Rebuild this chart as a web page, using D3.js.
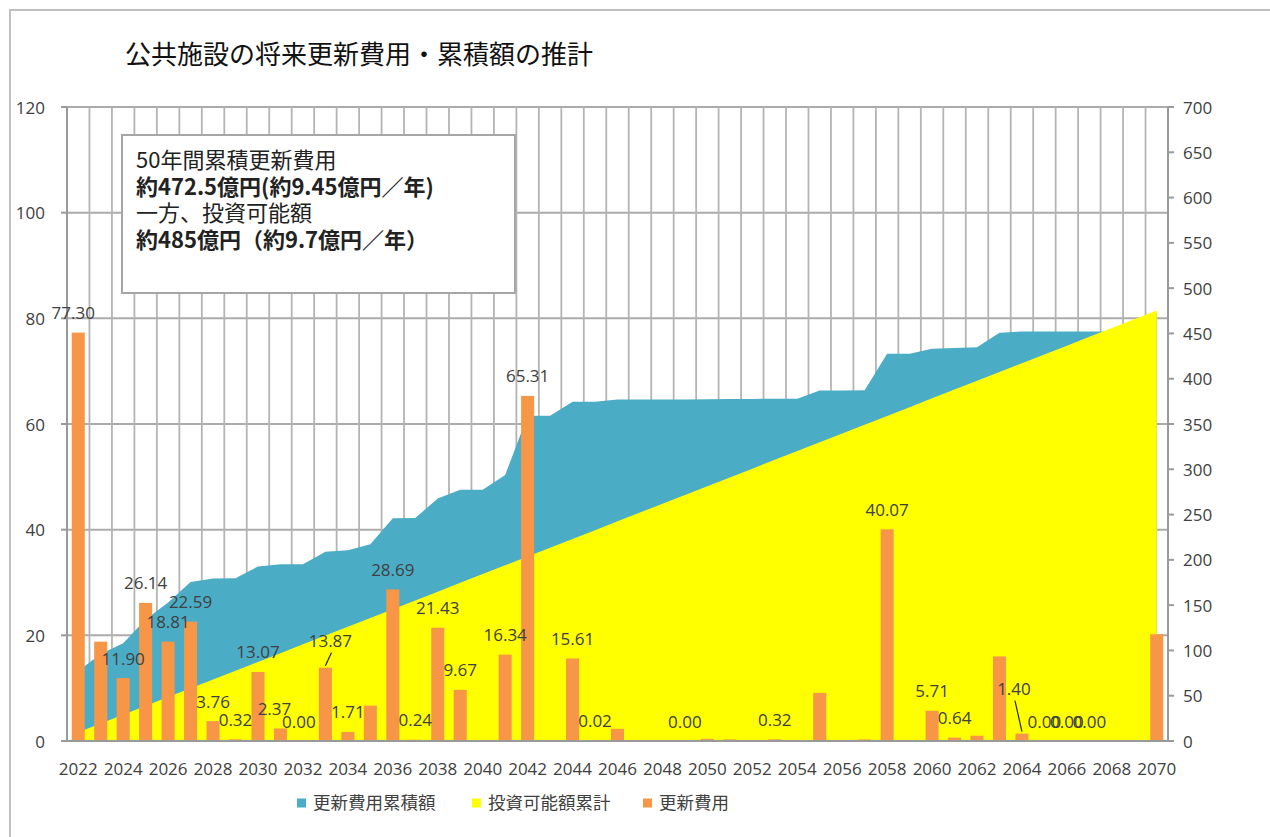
<!DOCTYPE html>
<html>
<head>
<meta charset="utf-8">
<script src="https://cdn.jsdelivr.net/npm/d3@7"></script>
<style>
    body { margin: 0; background: #fff; }
    svg { display: block; }
    .num { font-family: 'Open Sans', 'Liberation Sans', sans-serif; font-size: 17px; fill: #404040; }
    .jp { font-family: 'Noto Sans CJK JP', sans-serif; }
</style>
</head>
<body>
<svg class="rootSvg" width="1270" height="837"></svg>
<script>
// years on the category axis
var years = d3.range(2022, 2071);

// 更新費用 (億円) per year
var costs = [77.30, 18.80, 11.90, 26.14, 18.81, 22.59, 3.76, 0.32, 13.07, 2.37,
             0.00, 13.87, 1.71, 6.70, 28.69, 0.24, 21.43, 9.67, 0.00, 16.34,
             65.31, 0.00, 15.61, 0.02, 2.30, 0.00, 0.00, 0.00, 0.40, 0.30,
             0.00, 0.32, 0.00, 9.10, 0.00, 0.30, 40.07, 0.00, 5.71, 0.64,
             1.00, 16.00, 1.40, 0.00, 0.00, 0.00, 0.00, 0.00, 20.20];

// 更新費用累積額 (億円)
var costsCum = [77.30, 96.10, 108.00, 134.14, 152.95, 175.54, 179.30, 179.62, 192.69, 195.06,
                195.06, 208.93, 210.64, 217.34, 246.03, 246.27, 267.70, 277.37, 277.37, 293.71,
                359.02, 359.02, 374.63, 374.65, 376.95, 376.95, 376.95, 376.95, 377.35, 377.65,
                377.65, 377.97, 377.97, 387.07, 387.07, 387.37, 427.44, 427.44, 433.15, 433.79,
                434.79, 450.79, 452.19, 452.19, 452.19, 452.19, 452.19, 452.19, 472.39];

// 投資可能額累計 (億円)
var investCum = [9.7, 19.4, 29.1, 38.8, 48.5, 58.2, 67.9, 77.6, 87.3, 97.0,
                 106.7, 116.4, 126.1, 135.8, 145.5, 155.2, 164.9, 174.6, 184.3, 194.0,
                 203.7, 213.4, 223.1, 232.8, 242.5, 252.2, 261.9, 271.6, 281.3, 291.0,
                 300.7, 310.4, 320.1, 329.8, 339.5, 349.2, 358.9, 368.6, 378.3, 388.0,
                 397.7, 407.4, 417.1, 426.8, 436.5, 446.2, 455.9, 465.6, 475.3];

// years that carry a data label
var labelYears = [2022, 2024, 2025, 2026, 2027, 2028, 2029, 2030, 2031, 2032, 2033, 2034,
                  2036, 2037, 2038, 2039, 2041, 2042, 2044, 2045, 2049, 2053, 2058,
                  2060, 2061, 2064, 2065, 2066, 2067];

var leftTicks = [0, 20, 40, 60, 80, 100, 120];
var rightTicks = d3.range(0, 701, 50);
var xTickYears = d3.range(2022, 2071, 2);

var seriesNames = ['更新費用累積額', '投資可能額累計', '更新費用'];
var seriesColors = ['#4bacc6', '#ffff00', '#f79646'];

var noteLines = ['50年間累積更新費用', '約472.5億円(約9.45億円／年)', '一方、投資可能額', '約485億円（約9.7億円／年）'];

// hand placed labels, like the ones dragged in the original
var labelNudge = {
    2022: { dx: -5, dy: 0 },
    2031: { dx: -6, dy: 0 },
    2032: { dx: -4, dy: 0 },
    2033: { dx: 5, dy: -7, leader: true },
    2064: { dx: -8, dy: -25, leader: true }
};

var plot = { left: 67, right: 1168, top: 107, bottom: 741 };

var svg = d3.select('.rootSvg');

var x = d3.scaleBand()
    .domain(years)
    .range([plot.left, plot.right])
    .padding(0);

var yL = d3.scaleLinear().domain([0, 120]).range([plot.bottom, plot.top]);
var yR = d3.scaleLinear().domain([0, 700]).range([plot.bottom, plot.top]);

var barW = x.bandwidth() * 0.58;

function cx(year) {
    return x(year) + x.bandwidth() / 2;
}

// outer frame
svg.append('rect')
    .attr('x', 10)
    .attr('y', 10)
    .attr('width', 1290)
    .attr('height', 900)
    .attr('fill', 'none')
    .attr('stroke', '#c0c0c0')
    .attr('stroke-width', 2);

// title
svg.append('text')
    .attr('class', 'jp')
    .attr('x', 125)
    .attr('y', 52)
    .attr('dominant-baseline', 'central')
    .attr('font-size', 26)
    .attr('fill', '#111')
    .text('公共施設の将来更新費用・累積額の推計');

// grid
var grid = svg.append('g');

grid.selectAll('.hgrid')
    .data(leftTicks.slice(1))
    .enter()
    .append('line')
        .attr('x1', plot.left)
        .attr('x2', plot.right)
        .attr('y1', yL)
        .attr('y2', yL)
        .attr('stroke', '#ababab')
        .attr('stroke-width', 2);

grid.selectAll('.vgrid')
    .data(years.slice(1))
    .enter()
    .append('line')
        .attr('x1', function (d) { return x(d); })
        .attr('x2', function (d) { return x(d); })
        .attr('y1', plot.top)
        .attr('y2', plot.bottom)
        .attr('stroke', '#b4b4b4')
        .attr('stroke-width', 1.8);

// areas on the right axis
function area(values) {
    return d3.area()
        .x(function (d, i) { return cx(years[i]); })
        .y0(yR(0))
        .y1(function (d) { return yR(d); })(values);
}

svg.append('path')
    .attr('d', area(costsCum))
    .attr('fill', seriesColors[0]);

svg.append('path')
    .attr('d', area(investCum))
    .attr('fill', seriesColors[1]);

// bars on the left axis
svg.append('g')
    .selectAll('rect')
    .data(costs)
    .enter()
    .append('rect')
        .attr('x', function (d, i) { return cx(years[i]) - barW / 2; })
        .attr('y', function (d) { return yL(d); })
        .attr('width', barW)
        .attr('height', function (d) { return yL(0) - yL(d); })
        .attr('fill', seriesColors[2]);

// axes lines
svg.append('line')
    .attr('x1', plot.left).attr('x2', plot.left)
    .attr('y1', plot.top).attr('y2', plot.bottom)
    .attr('stroke', '#9a9a9a').attr('stroke-width', 2);

svg.append('line')
    .attr('x1', plot.right).attr('x2', plot.right)
    .attr('y1', plot.top).attr('y2', plot.bottom)
    .attr('stroke', '#9a9a9a').attr('stroke-width', 2);

svg.append('line')
    .attr('x1', plot.left).attr('x2', plot.right)
    .attr('y1', plot.bottom).attr('y2', plot.bottom)
    .attr('stroke', '#9a9a9a').attr('stroke-width', 2);

// left ticks
var leftAxis = svg.append('g');

leftAxis.selectAll('line')
    .data(leftTicks)
    .enter()
    .append('line')
        .attr('x1', plot.left - 6)
        .attr('x2', plot.left)
        .attr('y1', yL)
        .attr('y2', yL)
        .attr('stroke', '#9a9a9a')
        .attr('stroke-width', 2);

leftAxis.selectAll('text')
    .data(leftTicks)
    .enter()
    .append('text')
        .attr('class', 'num')
        .attr('x', 45)
        .attr('y', yL)
        .attr('text-anchor', 'end')
        .attr('dominant-baseline', 'central')
        .text(function (d) { return d; });

// right ticks
var rightAxis = svg.append('g');

rightAxis.selectAll('line')
    .data(rightTicks)
    .enter()
    .append('line')
        .attr('x1', plot.right)
        .attr('x2', plot.right + 6)
        .attr('y1', yR)
        .attr('y2', yR)
        .attr('stroke', '#9a9a9a')
        .attr('stroke-width', 2);

rightAxis.selectAll('text')
    .data(rightTicks)
    .enter()
    .append('text')
        .attr('class', 'num')
        .attr('x', plot.right + 15)
        .attr('y', yR)
        .attr('dominant-baseline', 'central')
        .text(function (d) { return d; });

// year labels
svg.append('g')
    .selectAll('text')
    .data(xTickYears)
    .enter()
    .append('text')
        .attr('class', 'num')
        .attr('x', cx)
        .attr('y', 768)
        .attr('text-anchor', 'middle')
        .attr('dominant-baseline', 'central')
        .text(function (d) { return d; });

// data labels
var fmt = d3.format('.2f');

function costOf(year) {
    return costs[years.indexOf(year)];
}

function nudge(year) {
    return labelNudge[year] || { dx: 0, dy: 0 };
}

var labels = svg.append('g');

labels.selectAll('line')
    .data(labelYears.filter(function (d) { return nudge(d).leader; }))
    .enter()
    .append('line')
        .attr('x1', function (d) { return cx(d) + nudge(d).dx + 1; })
        .attr('y1', function (d) { return yL(costOf(d)) - 20 + nudge(d).dy + 12; })
        .attr('x2', function (d) { return cx(d); })
        .attr('y2', function (d) { return yL(costOf(d)) - 2; })
        .attr('stroke', '#222')
        .attr('stroke-width', 1.2);

labels.selectAll('text')
    .data(labelYears)
    .enter()
    .append('text')
        .attr('class', 'num')
        .attr('x', function (d) { return cx(d) + nudge(d).dx; })
        .attr('y', function (d) { return yL(costOf(d)) - 20 + nudge(d).dy; })
        .attr('text-anchor', 'middle')
        .attr('dominant-baseline', 'central')
        .text(function (d) { return fmt(costOf(d)); });

// note box
var note = svg.append('g');

note.append('rect')
    .attr('x', 122)
    .attr('y', 135)
    .attr('width', 393)
    .attr('height', 158)
    .attr('fill', '#fff')
    .attr('stroke', '#a6a6a6')
    .attr('stroke-width', 2);

note.selectAll('text')
    .data(noteLines)
    .enter()
    .append('text')
        .attr('class', 'jp')
        .attr('x', 136)
        .attr('y', function (d, i) { return 158 + i * 26.5; })
        .attr('dominant-baseline', 'central')
        .attr('font-size', 22)
        .attr('font-weight', function (d, i) { return i % 2 === 1 ? 'bold' : 'normal'; })
        .attr('fill', '#222')
        .text(function (d) { return d; });

// legend
var legendX = [297, 472, 643];

var legend = svg.append('g')
    .selectAll('g')
    .data(seriesNames)
    .enter()
    .append('g')
        .attr('transform', function (d, i) { return 'translate(' + legendX[i] + ',803)'; });

legend.append('rect')
    .attr('x', 0)
    .attr('y', -4.5)
    .attr('width', 9)
    .attr('height', 9)
    .attr('fill', function (d, i) { return seriesColors[i]; });

legend.append('text')
    .attr('class', 'jp')
    .attr('x', 16)
    .attr('y', -2)
    .attr('dominant-baseline', 'central')
    .attr('font-size', 17.5)
    .attr('fill', '#404040')
    .text(function (d) { return d; });
</script>
</body>
</html>
